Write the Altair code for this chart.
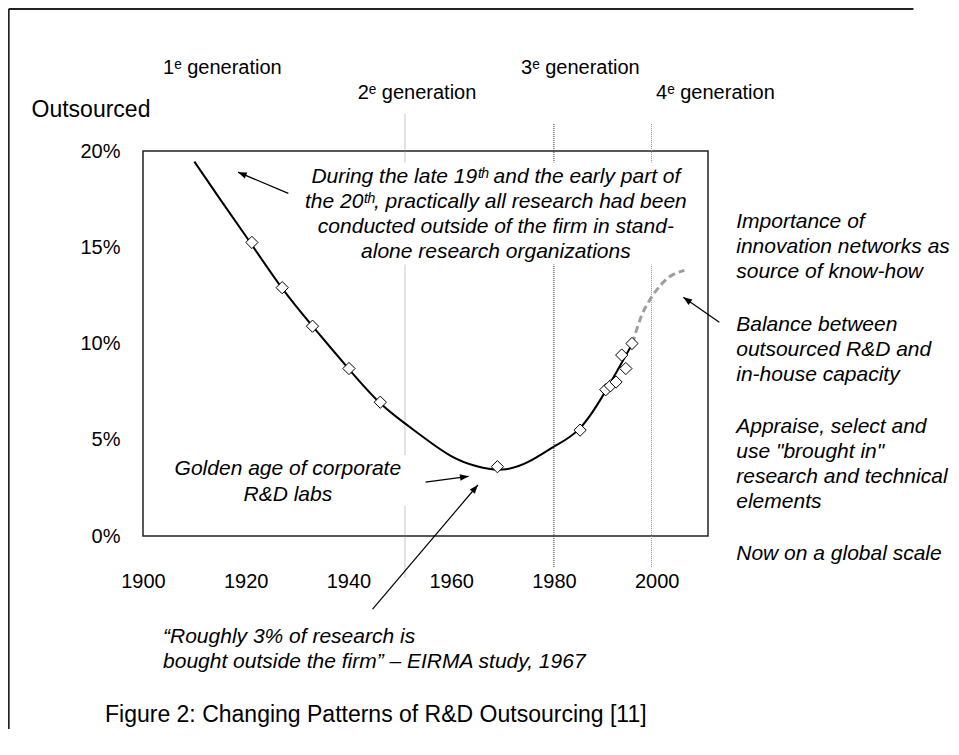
import math
import altair as alt
import pandas as pd

# ---------------- data ----------------
# fitted curve (year, % of research outsourced)
curve_years = [1910, 1915, 1921, 1927, 1933, 1940, 1946, 1951, 1955, 1960, 1965, 1970, 1975, 1980, 1985, 1990, 1995.3]
curve_values = [19.45, 17.5, 15.2, 12.9, 10.9, 8.7, 6.95, 5.85, 5.05, 4.15, 3.62, 3.45, 3.85, 4.64, 5.58, 7.5, 10.0]

# projected (dashed) continuation
proj_years = [1995.3, 1997, 1999, 2001, 2003, 2005.4]
proj_values = [10.0, 11.4, 12.4, 13.1, 13.55, 13.8]

# observations (diamonds)
obs_years = [1921.2, 1927.1, 1933.0, 1940.1, 1946.2, 1969.0, 1985.1, 1990.1, 1991.0, 1992.1, 1993.2, 1994.0, 1995.2]
obs_values = [15.25, 12.9, 10.9, 8.7, 6.95, 3.6, 5.5, 7.6, 7.8, 8.0, 9.4, 8.7, 10.0]

# generation boundaries
gen_years = [1951, 1980, 1999]
gen_top = [21.9, 21.4, 21.4]
gen_bottom = [-2.2, -1.66, -1.66]
gen_colors = ["#8c8c8c", "#222222", "#22c4c4"]

gen_labels = ["1ᵉ generation", "2ᵉ generation", "3ᵉ generation", "4ᵉ generation"]
gen_label_x = [1903.9, 1941.8, 1973.6, 1999.9]
gen_label_y = [24.3, 23.0, 24.3, 23.0]

x_ticks = [1900, 1920, 1940, 1960, 1980, 2000]
y_ticks = [0, 5, 10, 15, 20]

# annotations
center_lines = [
    "During the late 19ᵗʰ and the early part of",
    "the 20ᵗʰ, practically all research had been",
    "conducted outside of the firm in stand-",
    "alone research organizations",
    "Golden age of corporate",
    "R&D labs",
]
center_x = [1968.7, 1968.7, 1968.7, 1968.7, 1928.2, 1928.2]
center_y = [18.65, 17.35, 16.05, 14.75, 3.48, 2.13]

left_lines = [
    "Importance of",
    "innovation networks as",
    "source of know-how",
    "Balance between",
    "outsourced R&D and",
    "in-house capacity",
    "Appraise, select and",
    'use "brought in"',
    "research and technical",
    "elements",
    "Now on a global scale",
    "“Roughly 3% of research is",
    "bought outside the firm” – EIRMA study, 1967",
]
left_x = [2015.5] * 11 + [1903.9, 1903.9]
left_y = [16.31, 15.01, 13.71, 10.96, 9.66, 8.36, 5.66, 4.36, 3.06, 1.77, -0.94, -5.25, -6.55]

plain_lines = ["Outsourced", "Figure 2: Changing Patterns of R&D Outsourcing [11]"]
plain_x = [1878.3, 1892.6]
plain_y = [22.13, -9.3]

# arrows: tail -> head
arrow_tail_x = [1928.3, 1955.0, 1944.7, 2012.2]
arrow_tail_y = [17.8, 2.8, -3.8, 11.1]
arrow_head_x = [1918.5, 1963.4, 1965.2, 2005.2]
arrow_head_y = [18.9, 3.1, 2.65, 12.4]

# white boxes behind text (hide the generation lines)
box_x = [1930.6, 1913.1]
box_x2 = [2006.7, 1954.0]
box_y = [19.4, 4.2]
box_y2 = [14.1, 1.56]

# outer frame of the figure (top and left edges visible)
frame_left, frame_right = 1873.85, 2050
frame_top, frame_bottom = 27.38, -16

# ---------------- layout ----------------
W, H = 565, 385
X_DOM = [1900, 2010]
Y_DOM = [0, 20]
px_per_year = W / (X_DOM[1] - X_DOM[0])
px_per_pct = H / (Y_DOM[1] - Y_DOM[0])

FONT = "Liberation Sans"
xs = alt.Scale(domain=X_DOM, nice=False, zero=False)
ys = alt.Scale(domain=Y_DOM, nice=False, zero=False)

x_axis = alt.Axis(values=x_ticks, format="d", labelFont=FONT, labelFontSize=20, labelColor="black",
                  ticks=False, tickSize=0, domain=False, grid=False, labelPadding=35,
                  labelFlush=False, labelOverlap=False)
y_axis = alt.Axis(values=y_ticks, labelExpr="datum.value + '%'", labelFont=FONT, labelFontSize=20,
                  labelColor="black", ticks=False, tickSize=0, domain=False, grid=False,
                  labelPadding=23, labelFlush=False, labelOverlap=False)


def X(field):
    return alt.X(field, type="quantitative", scale=xs, axis=x_axis, title=None)


def Y(field):
    return alt.Y(field, type="quantitative", scale=ys, axis=y_axis, title=None)


curve_df = pd.DataFrame({"year": curve_years, "val": curve_values})
proj_df = pd.DataFrame({"year": proj_years, "val": proj_values})
obs_df = pd.DataFrame({"year": obs_years, "val": obs_values})
gen_df = pd.DataFrame({"year": gen_years, "top": gen_top, "bottom": gen_bottom, "c": gen_colors})
genlab_df = pd.DataFrame({"x": gen_label_x, "y": gen_label_y, "t": gen_labels})
center_df = pd.DataFrame({"x": center_x, "y": center_y, "t": center_lines})
left_df = pd.DataFrame({"x": left_x, "y": left_y, "t": left_lines})
plain_df = pd.DataFrame({"x": plain_x, "y": plain_y, "t": plain_lines})
angles = []
for tx, ty, hx, hy in zip(arrow_tail_x, arrow_tail_y, arrow_head_x, arrow_head_y):
    dx = (hx - tx) * px_per_year
    dy = -(hy - ty) * px_per_pct
    angles.append(math.degrees(math.atan2(dx, -dy)) % 360)
arrow_df = pd.DataFrame({"tx": arrow_tail_x, "ty": arrow_tail_y, "hx": arrow_head_x,
                         "hy": arrow_head_y, "ang": angles})
box_df = pd.DataFrame({"x": box_x, "x2": box_x2, "y": box_y, "y2": box_y2})
frame_df = pd.DataFrame({
    "x": [frame_left, frame_left], "x2": [frame_right, frame_left],
    "y": [frame_top, frame_top], "y2": [frame_top, frame_bottom],
})

frame = alt.Chart(frame_df).mark_rule(color="#222222", strokeWidth=2).encode(
    x=X("x"), x2="x2", y=Y("y"), y2="y2")

gen_rules = alt.Chart(gen_df).mark_rule(strokeWidth=1, strokeDash=[1, 1]).encode(
    x=X("year"), y=Y("top"), y2="bottom", color=alt.Color("c:N", scale=None))

boxes = alt.Chart(box_df).mark_rect(color="white").encode(
    x=X("x"), x2="x2", y=Y("y"), y2="y2")

curve = alt.Chart(curve_df).mark_line(color="black", strokeWidth=2, interpolate="natural").encode(
    x=X("year"), y=Y("val"))

proj = alt.Chart(proj_df).mark_line(color="#9e9e9e", strokeWidth=3, strokeDash=[7, 4],
                                    interpolate="natural").encode(x=X("year"), y=Y("val"))

obs = alt.Chart(obs_df).mark_point(shape="diamond", filled=True, fill="white", stroke="black",
                                   strokeWidth=1, size=150, opacity=1).encode(x=X("year"), y=Y("val"))

arrow_lines = alt.Chart(arrow_df).mark_rule(color="black", strokeWidth=1.2).encode(
    x=X("tx"), y=Y("ty"), x2="hx", y2="hy")
arrow_heads = alt.Chart(arrow_df).mark_point(shape="M0,0L-0.38,1L0.38,1Z", filled=True, color="black",
                                             size=300, opacity=1).encode(
    x=X("hx"), y=Y("hy"), angle=alt.Angle("ang:Q", scale=None))

gen_text = alt.Chart(genlab_df).mark_text(font=FONT, fontSize=20, align="left", baseline="middle",
                                          color="black").encode(x=X("x"), y=Y("y"), text="t:N")
center_text = alt.Chart(center_df).mark_text(font=FONT, fontSize=21, fontStyle="italic", align="center",
                                             baseline="middle", color="black").encode(
    x=X("x"), y=Y("y"), text="t:N")
left_text = alt.Chart(left_df).mark_text(font=FONT, fontSize=21, fontStyle="italic", align="left",
                                         baseline="middle", color="black").encode(
    x=X("x"), y=Y("y"), text="t:N")
plain_text = alt.Chart(plain_df).mark_text(font=FONT, fontSize=23, align="left", baseline="middle",
                                           color="black").encode(x=X("x"), y=Y("y"), text="t:N")

chart = alt.layer(
    frame, gen_rules, boxes, curve, proj, obs, arrow_lines, arrow_heads,
    gen_text, center_text, left_text, plain_text,
).properties(
    width=W, height=H,
    padding={"left": 135, "top": 143, "right": 243, "bottom": 193},
    autosize=alt.AutoSizeParams(type="none"),
    background="white",
).configure_view(stroke="#222222", strokeWidth=1.5)

chart.save("out.html", embed_options={"renderer": "svg", "actions": False})
